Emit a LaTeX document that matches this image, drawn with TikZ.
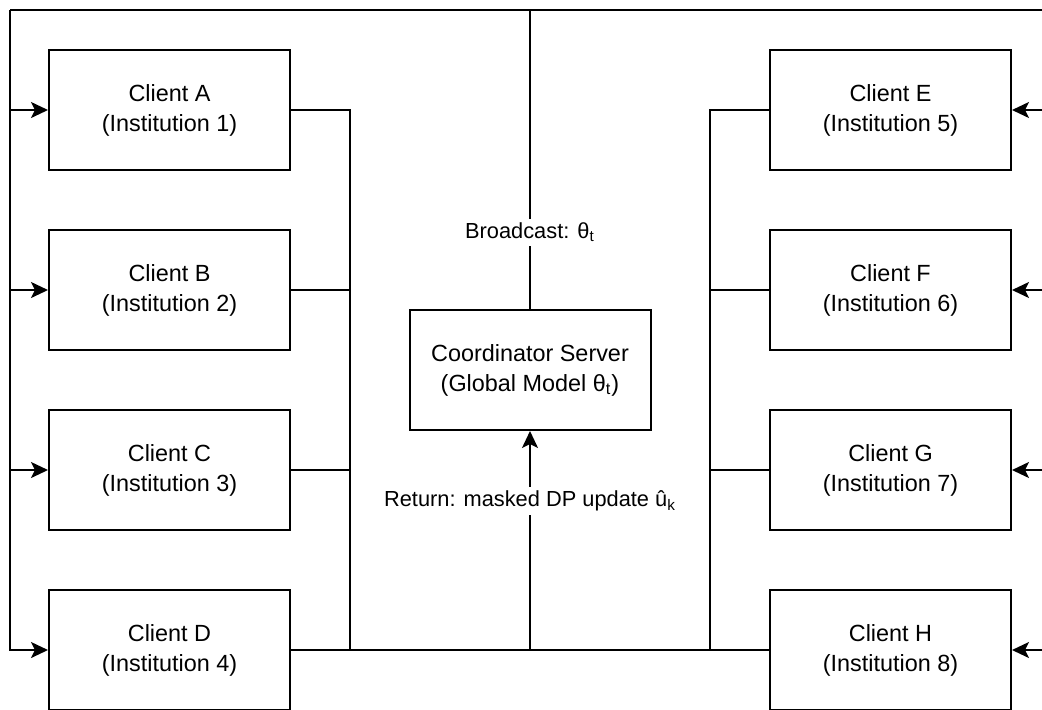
\documentclass[tikz,border=0pt]{standalone}
\usepackage{fontspec}
\setmainfont{Liberation Sans}
\usetikzlibrary{arrows.meta}
\begin{document}
\begin{tikzpicture}[x=0.5pt,y=-0.5pt,
  box/.style={draw, line width=1pt, minimum width=120.5pt, minimum height=60pt, inner sep=0pt, align=center, font=\fontsize{11.7}{15}\selectfont},
  wire/.style={line width=1pt},
  arr/.style={wire, -{Stealth[length=8.5pt, width=8pt, inset=2pt]}},
  lbl/.style={fill=white, inner sep=2pt, font=\fontsize{10.9}{13}\selectfont}]
\useasboundingbox (0,0) rectangle (1042,709);
\clip (0,0) rectangle (1042,709);
\node[box] (A) at (169.5,110) {Client A\\(Institution 1)};
\node[box] (B) at (169.5,290) {Client B\\(Institution 2)};
\node[box] (C) at (169.5,470) {Client C\\(Institution 3)};
\node[box] (D) at (169.5,650) {Client D\\(Institution 4)};
\node[box] (E) at (890.5,110) {Client E\\(Institution 5)};
\node[box] (F) at (890.5,290) {Client F\\(Institution 6)};
\node[box] (G) at (890.5,470) {Client G\\(Institution 7)};
\node[box] (H) at (890.5,650) {Client H\\(Institution 8)};
\node[box] (S) at (530,370) {Coordinator Server\\(Global Model θ\textsubscript{t})};
\coordinate (top) at (530,10);
\coordinate (tl) at (10,10);
\coordinate (tr) at (1050,10);
\coordinate (bl) at (350,650);
\coordinate (br) at (710,650);
\coordinate (bc) at (530,650);
% broadcast
\draw[wire] (S.north) -- node[lbl, pos=0.257] {Broadcast: θ\textsubscript{t}} (top);
\draw[wire] (tl) -- (tr);
\draw[arr] (tl) |- (A.west);
\draw[arr] (tl) |- (B.west);
\draw[arr] (tl) |- (C.west);
\draw[arr] (tl) |- (D.west);
\draw[arr] (tr) |- (E.east);
\draw[arr] (tr) |- (F.east);
\draw[arr] (tr) |- (G.east);
\draw[arr] (tr) |- (H.east);
% return
\draw[wire] (A.east) -| (bl);
\draw[wire] (B.east) -| (bl);
\draw[wire] (C.east) -| (bl);
\draw[wire] (D.east) -- (bl) -- (bc);
\draw[wire] (E.west) -| (br);
\draw[wire] (F.west) -| (br);
\draw[wire] (G.west) -| (br);
\draw[wire] (H.west) -- (br) -- (bc);
\draw[arr] (bc) -- node[lbl, pos=0.68] {Return: masked DP update û\textsubscript{k}} (S.south);
\end{tikzpicture}
\end{document}
